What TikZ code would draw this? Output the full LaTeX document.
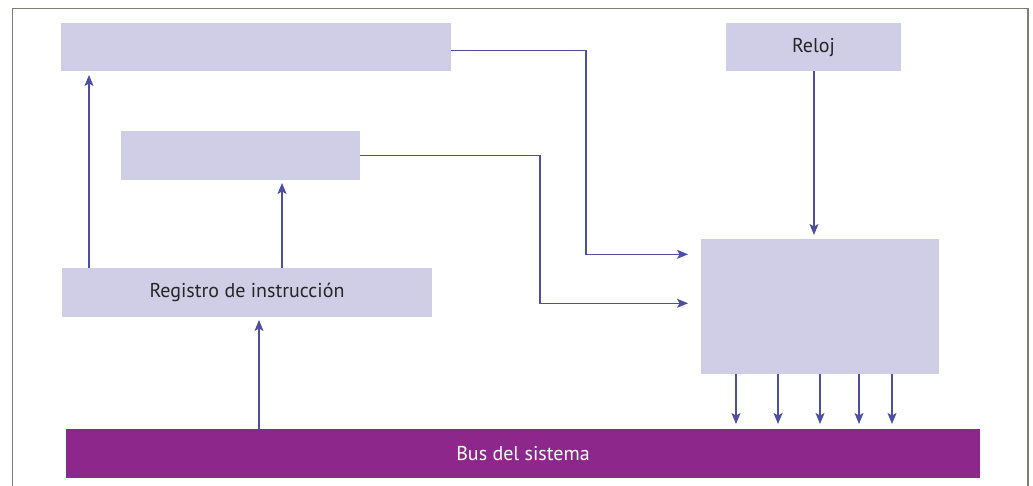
\documentclass[tikz,border=0pt]{standalone}
\usepackage{fontspec}
\setmainfont{PT Sans}
\usetikzlibrary{arrows.meta,positioning}
\definecolor{caja}{RGB}{208,206,230}
\definecolor{flecha}{RGB}{78,78,162}
\definecolor{morado}{RGB}{142,39,140}
\definecolor{marco}{RGB}{130,124,118}
\tikzstyle{bloque}=[fill=caja, inner sep=0, outer sep=0, text=black!85]
\tikzstyle{barra}=[fill=morado, inner sep=0, outer sep=0, text=white]
\tikzstyle{linea}=[draw=flecha, line width=1.2pt]

\begin{document}
\begin{tikzpicture}[x=1pt,y=-1pt,>={Stealth[length=11pt,width=9pt,inset=2.5pt]},font=\fontsize{20}{23}\selectfont]
        \useasboundingbox (0,0) rectangle (1033,486);
        \draw[marco, line width=1.5pt] (12.5,486) -- (12.5,8.5) -- (1028,8.5) -- (1028,486);

        \node [bloque, minimum width=390pt, minimum height=48.5pt] (dec) at (256,47.25) {};
        \node [bloque, minimum width=175pt, minimum height=48.5pt] (reloj) at (813.5,47.25) {Reloj};
        \node [bloque, minimum width=239pt, minimum height=49pt] (sel) at (240.5,155.5) {};
        \node [bloque, minimum width=370pt, minimum height=49pt] (ir) at (247,292.5) {Registro de instrucción};
        \node [bloque, minimum width=238pt, minimum height=134.5pt] (uc) at (820,306.25) {};
        \node [barra, minimum width=914pt, minimum height=49pt] (bus) at (523,453.5) {Bus del sistema};

        \coordinate (c1) at (586,254.3);
        \coordinate (c2) at (540,303.3);

        \draw[linea,->,shorten >=3.5pt] (ir.north -| 89,0) -- (dec.south -| 89,0);
        \draw[linea,->,shorten >=3pt] (ir.north -| 282,0) -- (sel.south -| 282,0);
        \draw[linea,->,shorten >=3pt] (bus.north -| 259,0) -- (ir.south -| 259,0);
        \draw[linea,->,shorten >=4pt] (reloj.south -| 814,0) -- (uc.north -| 814,0);
        \draw[linea,->,shorten >=13pt] ([yshift=-3.5pt]dec.east) -| (c1) -- (uc.west |- c1);
        \draw[linea,->,shorten >=13pt] (sel.east) -| (c2) -- (uc.west |- c2);
        \foreach \x in {736,778,820,859,892}
          \draw[linea,->,shorten >=5pt] (uc.south -| \x,0) -- (bus.north -| \x,0);

\end{tikzpicture}
\end{document}
